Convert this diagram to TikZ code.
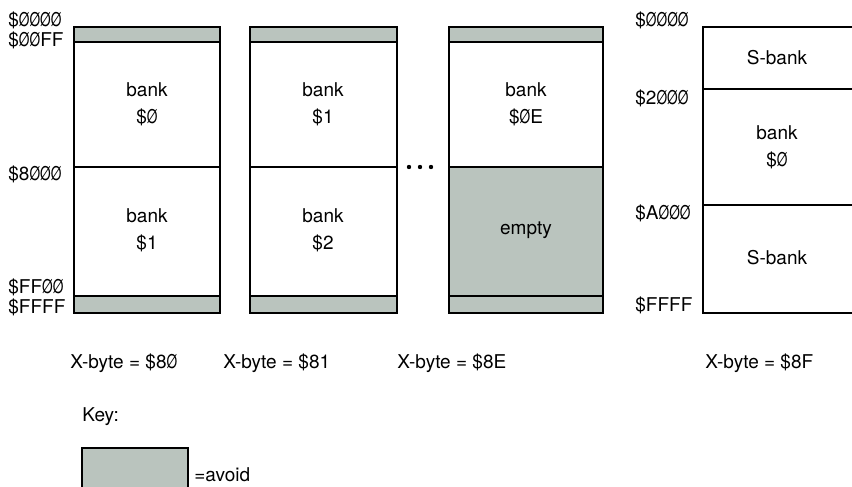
\documentclass[tikz,border=0pt]{standalone}
\usepackage{fontspec}
\setmainfont{TeX Gyre Heros}
\usepackage{xcolor}
\usepackage{tikz}
\usetikzlibrary{positioning}
\definecolor{avoidgray}{RGB}{186, 196, 190}
% slashed zero, narrowed to digit width
\newcommand{\sz}{\scalebox{0.72}[1]{Ø}}

\begin{document}
\begin{tikzpicture}[x=0.5pt, y=-0.5pt,
    frame/.style={draw=black, line width=1pt},
    avoid/.style={draw=black, line width=1pt, fill=avoidgray},
    banklabel/.style={align=center, font=\fontsize{9.5}{13.5}\selectfont},
    addr/.style={anchor=west, inner sep=0pt, font=\fontsize{9.5}{11}\selectfont},
    xbyte/.style={anchor=west, inner sep=0pt, font=\fontsize{9.5}{11}\selectfont}
]
    \useasboundingbox (0,0) rectangle (852,487);

    % X-byte = $80
    \draw[avoid] (74,27) rectangle (220,42);
    \draw[avoid] (74,296) rectangle (220,313);
    \draw[frame] (74,27) rectangle (220,313);
    \draw[frame] (74,167) -- (220,167);
    \node[banklabel] (bankA) at (147,104) {bank\\\$\sz};
    \node[banklabel] (bankB) at (147,230) {bank\\\$1};
    \node[addr] (aTop) at (8,20) {\$\sz\sz\sz\sz};
    \node[addr] (aFF) at (8,40) {\$\sz\sz FF};
    \node[addr] (aMid) at (8,174) {\$8\sz\sz\sz};
    \node[addr] (aFFzz) at (8,287) {\$FF\sz\sz};
    \node[addr] (aEnd) at (8,307) {\$FFFF};

    % X-byte = $81
    \draw[avoid] (250,27) rectangle (397,42);
    \draw[avoid] (250,296) rectangle (397,313);
    \draw[frame] (250,27) rectangle (397,313);
    \draw[frame] (250,167) -- (397,167);
    \node[banklabel] (bankC) at (323,104) {bank\\\$1};
    \node[banklabel] (bankD) at (323,230) {bank\\\$2};

    % dots
    \foreach \dx in {409,420,431}
        \fill (\dx,167) circle (2.2);

    % X-byte = $8E
    \draw[avoid] (449,27) rectangle (603,42);
    \draw[avoid] (449,167) rectangle (603,313);
    \draw[frame] (449,27) rectangle (603,313);
    \draw[frame] (449,296) -- (603,296);
    \node[banklabel] (bankE) at (526,104) {bank\\\$\sz E};
    \node[banklabel] (empty) at (526,230) {empty};

    % X-byte = $8F
    \draw[frame] (703,27) rectangle (856,313);
    \draw[frame] (703,89) -- (856,89);
    \draw[frame] (703,205) -- (856,205);
    \node[banklabel] (sbankA) at (777,58) {S-bank};
    \node[banklabel] (bankF) at (777,147) {bank\\\$\sz};
    \node[banklabel] (sbankB) at (777,258) {S-bank};
    \node[addr] (bTop) at (635,20) {\$\sz\sz\sz\sz};
    \node[addr] (bLow) at (635,98) {\$2\sz\sz\sz};
    \node[addr] (bHigh) at (635,213) {\$A\sz\sz\sz};
    \node[addr] (bEnd) at (635,305) {\$FFFF};

    \node[xbyte] (xA) at (70,363) {X-byte = \$8\sz};
    \node[xbyte] (xB) at (223,363) {X-byte = \$81};
    \node[xbyte] (xC) at (397,363) {X-byte = \$8E};
    \node[xbyte] (xD) at (705,363) {X-byte = \$8F};

    % key
    \node[xbyte] (key) at (82,417) {Key:};
    \draw[avoid] (82,448) rectangle (188,500);
    \node[xbyte] (avoidtext) at (194,475) {=avoid};
\end{tikzpicture}
\end{document}
